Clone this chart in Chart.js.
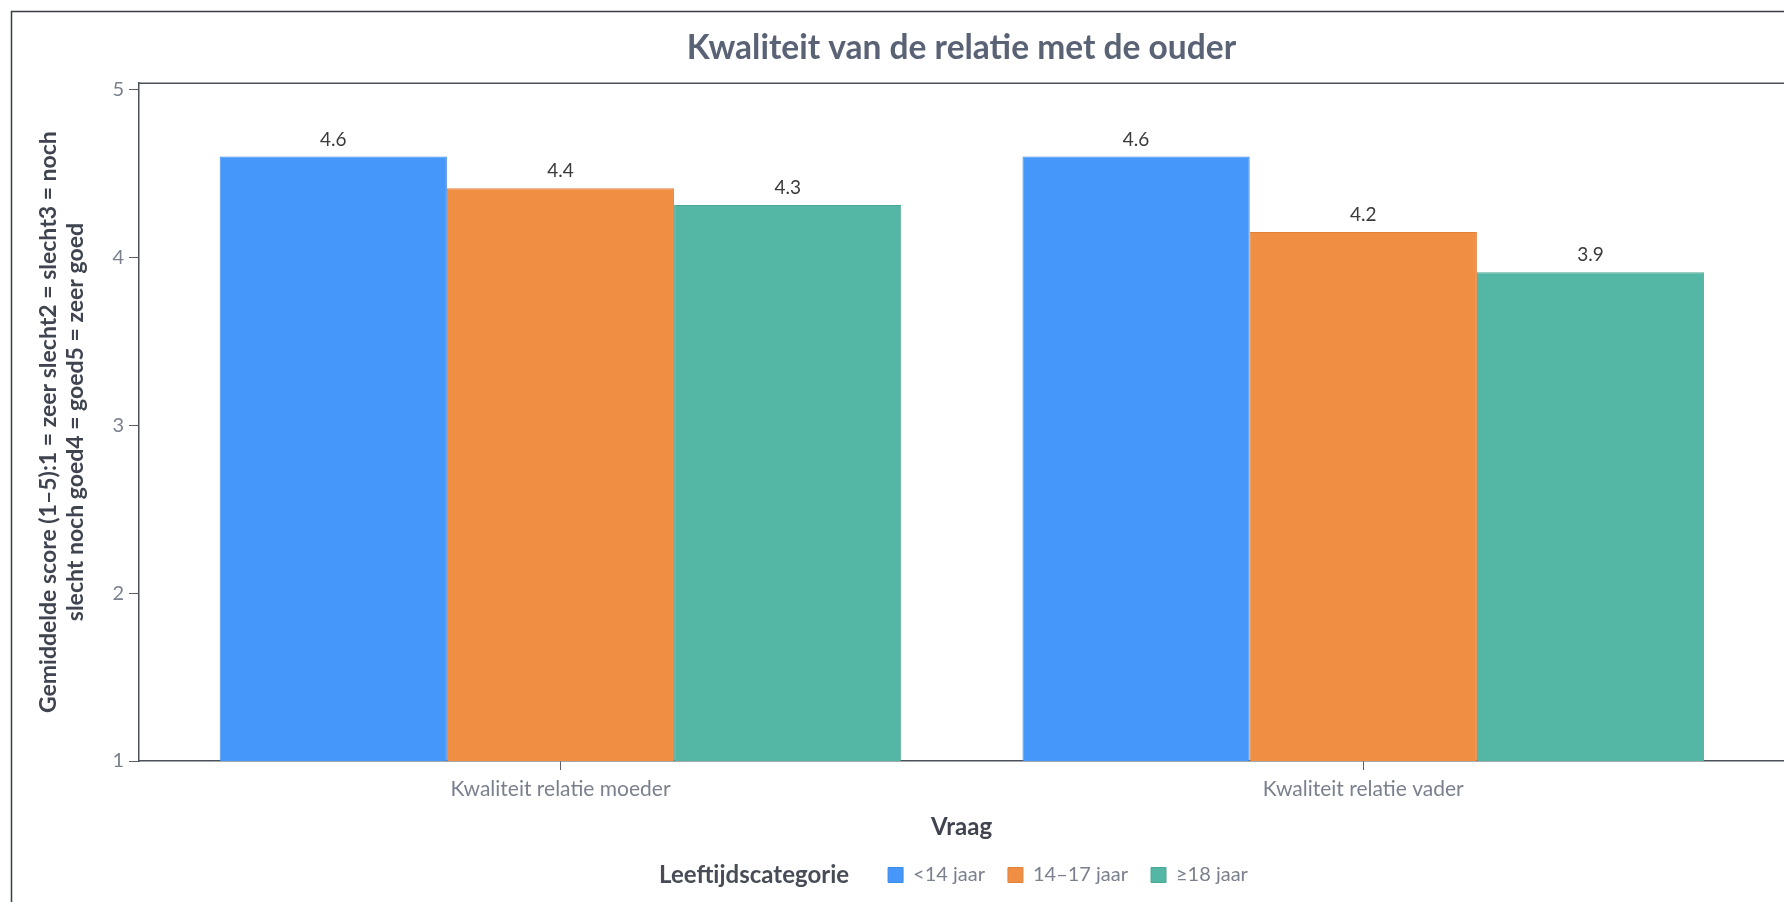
<!DOCTYPE html>
<html>
<head>
<meta charset="utf-8">
<title>Kwaliteit van de relatie met de ouder</title>
<script src="https://cdn.jsdelivr.net/npm/chart.js@4.4.1/dist/chart.umd.min.js"></script>
<style>
  html, body { margin: 0; padding: 0; background: #fff; overflow: hidden; }
  #wrap { width: 1784px; height: 902px; }
</style>
</head>
<body>
<div id="wrap"><canvas id="chart" width="1784" height="902"></canvas></div>
<script>
// chart data
const questions = ['Kwaliteit relatie moeder', 'Kwaliteit relatie vader'];
const ageGroups = ['<14 jaar', '14–17 jaar', '≥18 jaar'];
const under14 = [4.60, 4.60];
const age14to17 = [4.41, 4.15];
const age18plus = [4.31, 3.91];
const yTicks = [1, 2, 3, 4, 5];
const xTicks = [0, 1];

const titleText = 'Kwaliteit van de relatie met de ouder';
const yTitle = ['Gemiddelde score (1–5):1 = zeer slecht2 = slecht3 = noch', 'slecht noch goed4 = goed5 = zeer goed'];
const xTitle = 'Vraag';
const legendTitle = 'Leeftijdscategorie';

const colors = ['#4597f9', '#f08e43', '#54b6a4'];
const borders = ['#3f8ae6', '#e0823c', '#4ca896'];

const FONT = 'Lato, "Open Sans", sans-serif';
const CLEAR = 'rgba(0,0,0,0)';

// outer frame + top line of the plot box
const framePlugin = {
    id: 'frame',
    beforeDraw(chart) {
        const ctx = chart.ctx;
        ctx.save();
        ctx.strokeStyle = '#3a3d44';
        ctx.lineWidth = 1.5;
        ctx.strokeRect(11.5, 11.5, chart.width + 20, chart.height + 20);
        ctx.restore();
    },
    afterDraw(chart) {
        const a = chart.chartArea;
        const ctx = chart.ctx;
        ctx.save();
        ctx.strokeStyle = '#4b505a';
        ctx.lineWidth = 1.5;
        ctx.beginPath();
        ctx.moveTo(a.left, a.top);
        ctx.lineTo(a.right, a.top);
        ctx.stroke();
        ctx.restore();
    }
};

// value labels above the bars
const valueLabels = {
    id: 'valueLabels',
    afterDatasetsDraw(chart) {
        const ctx = chart.ctx;
        ctx.save();
        ctx.font = '19px ' + FONT;
        ctx.fillStyle = '#3a3a3a';
        ctx.textAlign = 'center';
        ctx.textBaseline = 'middle';
        chart.data.datasets.forEach((ds, i) => {
            chart.getDatasetMeta(i).data.forEach((bar, j) => {
                ctx.fillText(ds.data[j].y.toFixed(1), bar.x, bar.y - 17);
            });
        });
        ctx.restore();
    }
};

// legend title drawn bold in the slot of the (invisible) first legend entry
const legendTitlePlugin = {
    id: 'legendTitle',
    afterDraw(chart) {
        const boxes = chart.legend.legendHitBoxes;
        if (!boxes || boxes.length < 2) return;
        const b = boxes[1];
        const ctx = chart.ctx;
        ctx.save();
        ctx.font = 'bold 24px ' + FONT;
        ctx.fillStyle = '#474c56';
        ctx.textAlign = 'right';
        ctx.textBaseline = 'middle';
        ctx.fillText(legendTitle, b.left - 39, b.top + b.height / 2);
        ctx.restore();
    }
};

const seriesValues = [under14, age14to17, age18plus];

const ctx = document.getElementById('chart').getContext('2d');
const chart = new Chart(ctx, {
    type: 'bar',
    data: {
        datasets: ageGroups.map((name, i) => ({
            label: name,
            data: seriesValues[i].map((v, k) => ({ x: k, y: v })),
            backgroundColor: colors[i],
            borderColor: borders[i],
            borderWidth: 1,
            categoryPercentage: 0.849,
            barPercentage: 1.0
        }))
    },
    options: {
        responsive: false,
        animation: false,
        layout: {
            padding: { left: 14, right: 0, top: 0, bottom: 7 }
        },
        scales: {
            x: {
                type: 'linear',
                offset: false,
                min: -0.525,
                max: 1.524,
                afterBuildTicks: scale => { scale.ticks = xTicks.map(v => ({ value: v })); },
                ticks: {
                    callback: v => questions[v],
                    font: { family: FONT, size: 21 },
                    color: '#7a808d',
                    padding: 7,
                    maxRotation: 0
                },
                grid: { offset: false, drawOnChartArea: false, drawTicks: true, tickLength: 9, tickColor: '#5a5f69' },
                border: { display: true, color: '#4b505a', width: 1.5 },
                title: {
                    display: true,
                    text: xTitle,
                    font: { family: FONT, size: 24, weight: 'bold' },
                    color: '#3f4450',
                    padding: { top: 4, bottom: 0 }
                }
            },
            y: {
                min: 1,
                max: 5.036,
                afterBuildTicks: scale => { scale.ticks = yTicks.map(v => ({ value: v })); },
                afterFit: scale => { scale.width = 125; },
                ticks: {
                    font: { family: FONT, size: 20 },
                    color: '#7a808d',
                    padding: 5
                },
                grid: { drawOnChartArea: false, drawTicks: true, tickLength: 10, tickColor: '#5a5f69' },
                border: { display: true, color: '#4b505a', width: 1.5 },
                title: {
                    display: true,
                    text: yTitle,
                    font: { family: FONT, size: 23, weight: 'bold', lineHeight: 1.18 },
                    color: '#3f4450',
                    padding: { top: 21, bottom: 0 }
                }
            }
        },
        plugins: {
            title: {
                display: true,
                text: titleText,
                fullSize: false,
                font: { family: FONT, size: 33.5, weight: 'bold', lineHeight: 1.2 },
                color: '#5a6275',
                padding: { top: 28, bottom: 15 }
            },
            legend: {
                position: 'bottom',
                fullSize: false,
                labels: {
                    boxWidth: 15,
                    boxHeight: 15,
                    padding: 23,
                    font: { family: FONT, size: 20 },
                    color: '#7a808d',
                    generateLabels: chart => {
                        const items = Chart.defaults.plugins.legend.labels.generateLabels(chart);
                        items.unshift({
                            text: legendTitle + '\u2002',
                            fillStyle: CLEAR,
                            strokeStyle: CLEAR,
                            fontColor: CLEAR,
                            lineWidth: 0,
                            hidden: false,
                            datasetIndex: -1
                        });
                        return items;
                    }
                },
                onClick: () => {}
            },
            tooltip: { enabled: false }
        }
    },
    plugins: [framePlugin, valueLabels, legendTitlePlugin]
});
</script>
</body>
</html>
